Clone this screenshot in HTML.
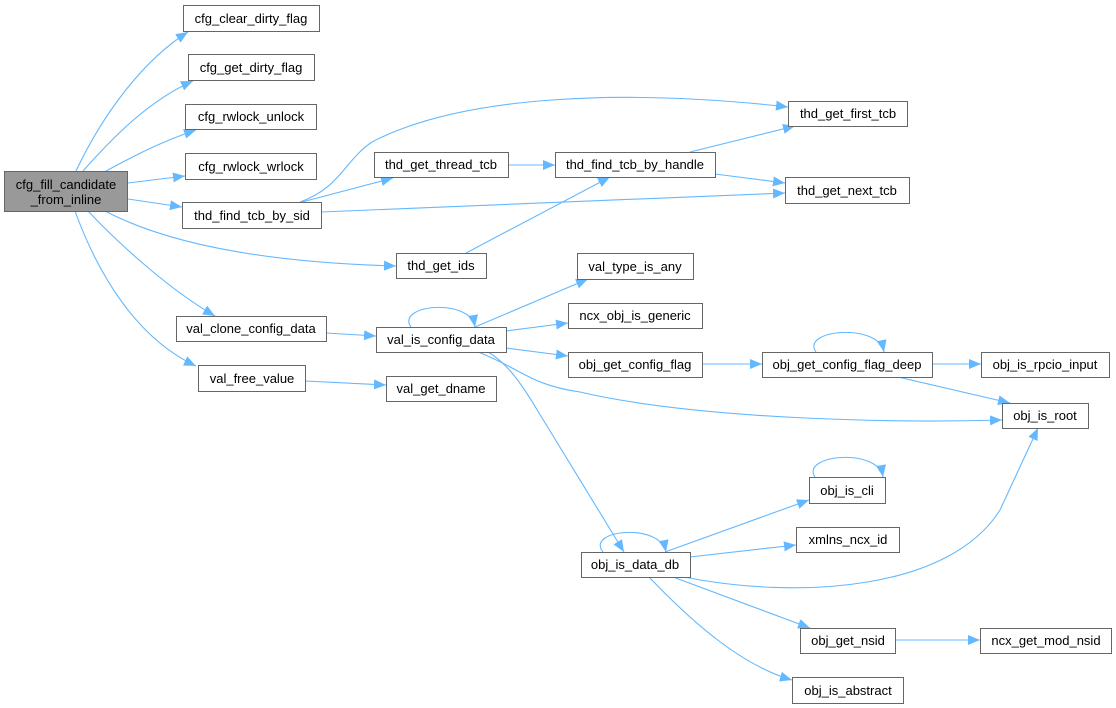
<!DOCTYPE html>
<html><head><meta charset="utf-8"><style>
html,body{margin:0;padding:0;background:#fff;}
svg{display:block;}
text{font-family:"Liberation Sans",Arial,sans-serif;font-size:13px;fill:#000;text-anchor:middle;}
.b{fill:#fff;stroke:#666;stroke-width:1;}
.e{fill:none;stroke:#63b8ff;stroke-width:1.1;marker-end:url(#a);}
</style></head><body>
<svg width="1116" height="708" viewBox="0 0 1116 708" xmlns="http://www.w3.org/2000/svg">
<defs><marker id="a" markerUnits="userSpaceOnUse" markerWidth="14" markerHeight="12" refX="12" refY="5" orient="auto"><path d="M0,0 L12,5 L0,10 z" fill="#63b8ff"/></marker></defs>
<g>
<path class="e" d="M76,171 C100,120 140,62 188,32"/>
<path class="e" d="M83,171 C115,135 150,100 193,81"/>
<path class="e" d="M106,171 C130,158 160,142 196,130"/>
<path class="e" d="M128,183 L185,176"/>
<path class="e" d="M128,199 L182,207"/>
<path class="e" d="M105,211 C160,240 250,262 396,266"/>
<path class="e" d="M88,211 C120,245 170,290 215,316"/>
<path class="e" d="M75,211 C100,280 140,340 196,366"/>
<path class="e" d="M300,202 C340,188 345,160 372,142 C460,96 620,88 788,107"/>
<path class="e" d="M302,202 L393,178"/>
<path class="e" d="M321,212 L785,193"/>
<path class="e" d="M508,165 L555,165"/>
<path class="e" d="M466,253 L610,177"/>
<path class="e" d="M690,152 L795,126"/>
<path class="e" d="M715,174 L785,183"/>
<path class="e" d="M326,333 L376,336"/>
<path class="e" d="M305,381 L386,385"/>
<path class="e" d="M411,327 C395,305 470,297 475,327"/>
<path class="e" d="M475,327 L588,279"/>
<path class="e" d="M506,331 L568,323"/>
<path class="e" d="M506,348 L568,356"/>
<path class="e" d="M478,352 C520,368 530,385 580,392 C700,420 900,423 1002,420"/>
<path class="e" d="M488,352 C505,362 518,378 536,408 L624,552"/>
<path class="e" d="M702,364 L762,364"/>
<path class="e" d="M816,352 C800,330 878,322 884,352"/>
<path class="e" d="M932,364 L981,364"/>
<path class="e" d="M898,377 L1010,403"/>
<path class="e" d="M603,552 C585,530 660,522 666,552"/>
<path class="e" d="M665,552 L809,500"/>
<path class="e" d="M690,557 L796,545"/>
<path class="e" d="M684,577 C800,600 950,590 1000,510 L1038,428"/>
<path class="e" d="M815,477 C800,455 878,447 883,477"/>
<path class="e" d="M673,577 L810,628"/>
<path class="e" d="M649,577 C690,620 740,665 792,680"/>
<path class="e" d="M895,640 L980,640"/>
</g>
<rect x="4.5" y="171.5" width="123" height="40" fill="#999" stroke="#666"/>
<text x="66" y="189">cfg_fill_candidate</text><text x="66" y="204">_from_inline</text>
<rect class="b" x="183.5" y="5.5" width="136" height="26"/><text x="251" y="23">cfg_clear_dirty_flag</text>
<rect class="b" x="188.5" y="54.5" width="126" height="26"/><text x="251" y="72">cfg_get_dirty_flag</text>
<rect class="b" x="185.5" y="104.5" width="131" height="25"/><text x="251" y="121">cfg_rwlock_unlock</text>
<rect class="b" x="185.5" y="153.5" width="131" height="26"/><text x="251" y="171">cfg_rwlock_wrlock</text>
<rect class="b" x="182.5" y="202.5" width="139" height="26"/><text x="252" y="220">thd_find_tcb_by_sid</text>
<rect class="b" x="374.5" y="152.5" width="134" height="25"/><text x="441" y="169">thd_get_thread_tcb</text>
<rect class="b" x="396.5" y="253.5" width="90" height="25"/><text x="441" y="270">thd_get_ids</text>
<rect class="b" x="176.5" y="316.5" width="150" height="25"/><text x="251" y="333">val_clone_config_data</text>
<rect class="b" x="376.5" y="327.5" width="130" height="25"/><text x="441" y="344">val_is_config_data</text>
<rect class="b" x="198.5" y="365.5" width="107" height="26"/><text x="252" y="383">val_free_value</text>
<rect class="b" x="386.5" y="376.5" width="110" height="25"/><text x="441" y="393">val_get_dname</text>
<rect class="b" x="788.5" y="101.5" width="119" height="25"/><text x="848" y="118">thd_get_first_tcb</text>
<rect class="b" x="555.5" y="152.5" width="160" height="25"/><text x="635" y="169">thd_find_tcb_by_handle</text>
<rect class="b" x="785.5" y="177.5" width="124" height="26"/><text x="847" y="195">thd_get_next_tcb</text>
<rect class="b" x="577.5" y="253.5" width="116" height="26"/><text x="635" y="271">val_type_is_any</text>
<rect class="b" x="568.5" y="303.5" width="134" height="25"/><text x="635" y="320">ncx_obj_is_generic</text>
<rect class="b" x="568.5" y="352.5" width="134" height="25"/><text x="635" y="369">obj_get_config_flag</text>
<rect class="b" x="762.5" y="352.5" width="170" height="25"/><text x="847" y="369">obj_get_config_flag_deep</text>
<rect class="b" x="981.5" y="352.5" width="128" height="25"/><text x="1045" y="369">obj_is_rpcio_input</text>
<rect class="b" x="1002.5" y="403.5" width="86" height="25"/><text x="1045" y="420">obj_is_root</text>
<rect class="b" x="809.5" y="477.5" width="76" height="26"/><text x="847" y="495">obj_is_cli</text>
<rect class="b" x="796.5" y="527.5" width="103" height="25"/><text x="848" y="544">xmlns_ncx_id</text>
<rect class="b" x="581.5" y="552.5" width="109" height="25"/><text x="635" y="569">obj_is_data_db</text>
<rect class="b" x="800.5" y="628.5" width="95" height="25"/><text x="848" y="645">obj_get_nsid</text>
<rect class="b" x="980.5" y="628.5" width="131" height="25"/><text x="1046" y="645">ncx_get_mod_nsid</text>
<rect class="b" x="792.5" y="677.5" width="111" height="26"/><text x="848" y="695">obj_is_abstract</text>
</svg>
</body></html>
